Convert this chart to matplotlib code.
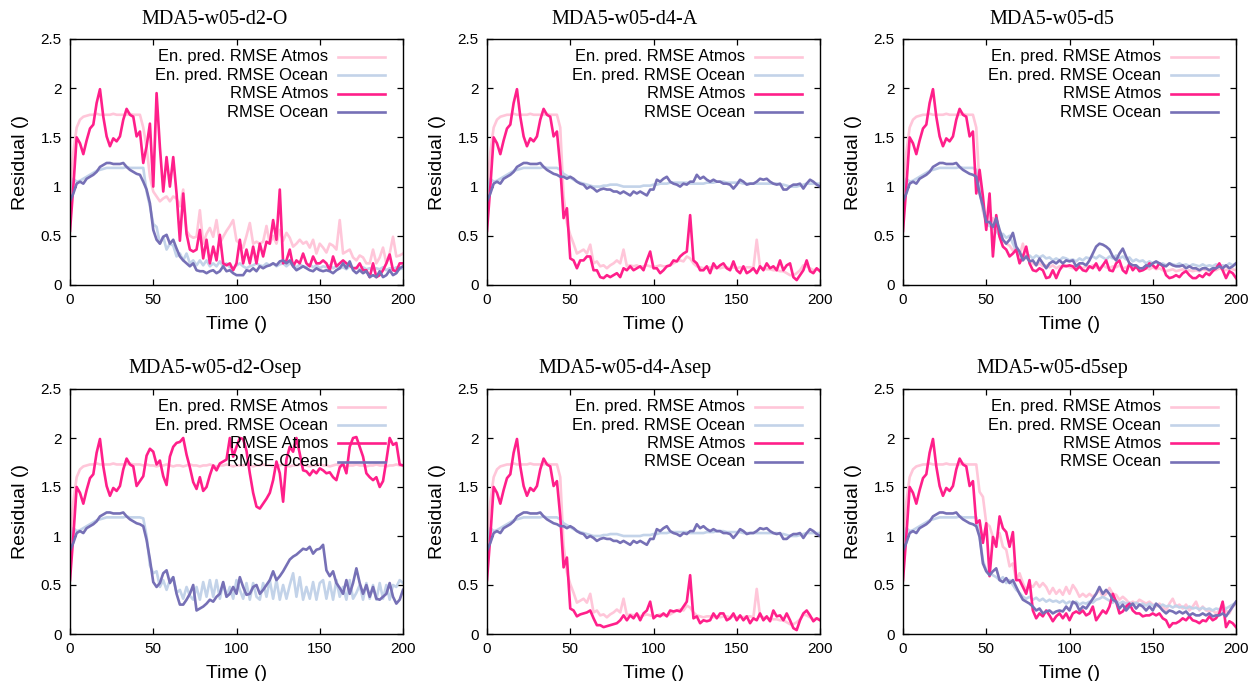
import numpy as np
import matplotlib
matplotlib.use("Agg")
import matplotlib.pyplot as plt

# shared start of every run, t = 0..42 (step 2)
head_atm = [0.55, 1.00, 1.50, 1.44, 1.33, 1.47, 1.59, 1.63, 1.85, 1.99,
            1.71, 1.51, 1.41, 1.49, 1.46, 1.51, 1.68, 1.79, 1.73, 1.71,
            1.51, 1.56]
head_ocn = [0.85, 0.93, 1.03, 1.05, 1.03, 1.08, 1.10, 1.12, 1.15, 1.20,
            1.22, 1.24, 1.24, 1.23, 1.23, 1.23, 1.24, 1.20, 1.17, 1.15,
            1.13, 1.12]
head_pred_atm = [0.95, 1.35, 1.60, 1.68, 1.71, 1.72, 1.73, 1.73, 1.74, 1.73,
                 1.73, 1.73, 1.73, 1.74, 1.73, 1.73, 1.73, 1.73, 1.74, 1.73,
                 1.73, 1.73]
head_pred_ocn = [0.95, 1.08, 1.05, 1.06, 1.08, 1.10, 1.12, 1.14, 1.16, 1.17,
                 1.18, 1.19, 1.19, 1.19, 1.19, 1.19, 1.19, 1.20, 1.19, 1.19,
                 1.19, 1.19]

# tails, t = 44..200 (step 2)
d2O_atm = [1.24, 1.41, 1.64, 1.00, 1.95, 1.40, 0.95, 1.30, 1.00, 1.30,
           0.93, 0.45, 0.93, 0.52, 0.36, 0.34, 0.36, 0.56, 0.27, 0.46,
           0.22, 0.39, 0.25, 0.51, 0.22, 0.20, 0.22, 0.15, 0.22, 0.46,
           0.22, 0.36, 0.22, 0.39, 0.22, 0.42, 0.29, 0.44, 0.42, 0.66,
           0.46, 0.97, 0.22, 0.25, 0.36, 0.19, 0.25, 0.22, 0.32, 0.22,
           0.19, 0.29, 0.22, 0.22, 0.25, 0.22, 0.15, 0.29, 0.19, 0.22,
           0.25, 0.22, 0.20, 0.17, 0.17, 0.22, 0.15, 0.15, 0.08, 0.22,
           0.08, 0.10, 0.15, 0.22, 0.31, 0.15, 0.14, 0.22, 0.22]
d2O_pred_atm = [1.60, 1.40, 1.10, 0.95, 0.90, 0.85, 0.88, 0.90, 0.85, 0.90,
                0.88, 0.80, 0.97, 0.55, 0.50, 0.48, 0.49, 0.76, 0.42, 0.52,
                0.58, 0.49, 0.66, 0.42, 0.49, 0.55, 0.60, 0.66, 0.45, 0.42,
                0.38, 0.50, 0.63, 0.42, 0.44, 0.42, 0.44, 0.60, 0.42, 0.50,
                0.42, 0.56, 0.45, 0.53, 0.48, 0.39, 0.42, 0.46, 0.42, 0.44,
                0.38, 0.46, 0.32, 0.42, 0.38, 0.33, 0.42, 0.40, 0.36, 0.66,
                0.32, 0.34, 0.36, 0.28, 0.25, 0.30, 0.28, 0.22, 0.22, 0.36,
                0.22, 0.28, 0.38, 0.22, 0.32, 0.49, 0.29, 0.30, 0.32]
d2O_ocn = [1.05, 0.97, 0.83, 0.56, 0.46, 0.42, 0.49, 0.51, 0.42, 0.46,
           0.37, 0.29, 0.25, 0.22, 0.19, 0.22, 0.15, 0.14, 0.14, 0.12,
           0.14, 0.15, 0.12, 0.14, 0.19, 0.14, 0.15, 0.12, 0.10, 0.10,
           0.10, 0.15, 0.14, 0.17, 0.14, 0.19, 0.17, 0.19, 0.20, 0.22,
           0.20, 0.24, 0.25, 0.22, 0.25, 0.19, 0.15, 0.17, 0.19, 0.17,
           0.15, 0.14, 0.17, 0.15, 0.14, 0.15, 0.14, 0.12, 0.15, 0.17,
           0.22, 0.17, 0.24, 0.15, 0.12, 0.15, 0.12, 0.14, 0.08, 0.10,
           0.08, 0.14, 0.08, 0.10, 0.15, 0.10, 0.12, 0.17, 0.19]
d2O_pred_ocn = [1.19, 0.95, 0.80, 0.62, 0.59, 0.42, 0.49, 0.36, 0.42, 0.40,
                0.29, 0.32, 0.25, 0.32, 0.22, 0.25, 0.20, 0.25, 0.20, 0.25,
                0.19, 0.22, 0.19, 0.24, 0.19, 0.22, 0.18, 0.17, 0.20, 0.22,
                0.19, 0.17, 0.19, 0.20, 0.22, 0.20, 0.19, 0.22, 0.20, 0.22,
                0.19, 0.21, 0.22, 0.19, 0.22, 0.20, 0.18, 0.21, 0.19, 0.18,
                0.21, 0.18, 0.20, 0.17, 0.19, 0.18, 0.20, 0.17, 0.19, 0.17,
                0.18, 0.16, 0.19, 0.17, 0.18, 0.16, 0.18, 0.16, 0.17, 0.15,
                0.17, 0.16, 0.18, 0.15, 0.17, 0.16, 0.18, 0.16, 0.17]

d4A_atm = [1.20, 0.68, 0.78, 0.27, 0.25, 0.17, 0.25, 0.25, 0.29, 0.29,
           0.15, 0.15, 0.08, 0.07, 0.10, 0.08, 0.10, 0.12, 0.08, 0.17,
           0.15, 0.19, 0.15, 0.17, 0.19, 0.15, 0.25, 0.34, 0.17, 0.17,
           0.12, 0.15, 0.19, 0.20, 0.25, 0.24, 0.29, 0.32, 0.34, 0.71,
           0.25, 0.22, 0.15, 0.15, 0.19, 0.12, 0.22, 0.17, 0.20, 0.22,
           0.17, 0.15, 0.24, 0.15, 0.12, 0.19, 0.12, 0.14, 0.17, 0.12,
           0.19, 0.15, 0.22, 0.17, 0.19, 0.15, 0.25, 0.15, 0.20, 0.22,
           0.08, 0.05, 0.10, 0.15, 0.25, 0.14, 0.12, 0.17, 0.14]
d4A_pred_atm = [1.60, 0.90, 0.63, 0.51, 0.42, 0.32, 0.34, 0.36, 0.32, 0.41,
                0.22, 0.24, 0.19, 0.20, 0.17, 0.20, 0.22, 0.25, 0.22, 0.36,
                0.19, 0.20, 0.19, 0.20, 0.18, 0.19, 0.20, 0.19, 0.18, 0.19,
                0.20, 0.19, 0.19, 0.20, 0.22, 0.24, 0.25, 0.24, 0.29, 0.27,
                0.22, 0.19, 0.18, 0.17, 0.18, 0.18, 0.17, 0.18, 0.17, 0.18,
                0.18, 0.17, 0.18, 0.17, 0.18, 0.17, 0.18, 0.18, 0.17, 0.46,
                0.18, 0.17, 0.16, 0.16, 0.15, 0.15, 0.14, 0.14, 0.12, 0.10,
                0.10, 0.12, 0.15, 0.20, 0.19, 0.17, 0.15, 0.16, 0.15]
d4A_ocn = [1.10, 1.10, 1.08, 1.10, 1.08, 1.05, 1.03, 1.02, 0.98, 1.00,
           0.98, 0.95, 0.97, 0.98, 0.97, 0.97, 0.95, 0.95, 0.93, 0.95,
           0.93, 0.91, 0.95, 0.93, 0.95, 0.93, 0.91, 0.97, 0.97, 1.07,
           1.05, 1.08, 1.10, 1.05, 1.03, 1.02, 1.00, 1.03, 1.02, 1.05,
           1.05, 1.12, 1.08, 1.10, 1.07, 1.05, 1.07, 1.05, 1.05, 1.03,
           1.03, 1.02, 0.98, 1.02, 1.07, 1.05, 1.02, 1.03, 1.03, 1.05,
           1.08, 1.07, 1.08, 1.05, 1.03, 1.02, 1.03, 0.97, 0.97, 1.00,
           1.02, 1.02, 1.03, 0.98, 1.03, 1.07, 1.05, 1.02, 1.00]
d4A_pred_ocn = [1.17, 1.13, 1.11, 1.09, 1.07, 1.05, 1.04, 1.03, 1.02, 1.01,
                1.00, 1.00, 1.00, 1.01, 1.01, 1.02, 1.02, 1.02, 1.01, 1.00,
                1.00, 1.00, 1.00, 1.00, 1.00, 1.01, 1.01, 1.01, 1.02, 1.02,
                1.03, 1.03, 1.03, 1.04, 1.04, 1.04, 1.04, 1.04, 1.04, 1.03,
                1.03, 1.03, 1.03, 1.03, 1.04, 1.04, 1.04, 1.05, 1.05, 1.05,
                1.04, 1.04, 1.04, 1.04, 1.04, 1.03, 1.03, 1.03, 1.03, 1.03,
                1.03, 1.03, 1.03, 1.03, 1.03, 1.03, 1.02, 1.02, 1.01, 1.00,
                1.00, 1.00, 1.01, 1.02, 1.03, 1.03, 1.03, 1.03, 1.03]

d5_atm = [0.93, 1.17, 0.90, 0.56, 0.93, 0.29, 0.71, 0.49, 0.39, 0.36,
          0.29, 0.32, 0.36, 0.22, 0.29, 0.39, 0.22, 0.15, 0.14, 0.17,
          0.15, 0.07, 0.08, 0.15, 0.07, 0.15, 0.20, 0.19, 0.20, 0.19,
          0.15, 0.19, 0.15, 0.14, 0.19, 0.17, 0.22, 0.15, 0.20, 0.25,
          0.15, 0.14, 0.22, 0.25, 0.15, 0.12, 0.22, 0.15, 0.19, 0.14,
          0.15, 0.17, 0.22, 0.20, 0.17, 0.22, 0.19, 0.10, 0.07, 0.08,
          0.10, 0.08, 0.12, 0.14, 0.10, 0.07, 0.07, 0.10, 0.08, 0.12,
          0.10, 0.14, 0.17, 0.22, 0.15, 0.07, 0.14, 0.12, 0.07]
d5_pred_atm = [1.60, 1.00, 0.75, 0.65, 0.62, 0.68, 0.60, 0.50, 0.45, 0.42,
               0.40, 0.35, 0.38, 0.30, 0.42, 0.28, 0.25, 0.22, 0.20, 0.22,
               0.19, 0.20, 0.18, 0.20, 0.17, 0.19, 0.18, 0.20, 0.18, 0.17,
               0.19, 0.18, 0.17, 0.19, 0.18, 0.20, 0.18, 0.17, 0.20, 0.18,
               0.17, 0.19, 0.18, 0.20, 0.17, 0.18, 0.20, 0.17, 0.18, 0.16,
               0.17, 0.18, 0.16, 0.18, 0.16, 0.17, 0.15, 0.14, 0.15, 0.16,
               0.14, 0.15, 0.16, 0.14, 0.15, 0.14, 0.15, 0.14, 0.16, 0.15,
               0.14, 0.16, 0.15, 0.17, 0.16, 0.15, 0.17, 0.16, 0.15]
d5_ocn = [1.10, 0.93, 0.80, 0.64, 0.64, 0.59, 0.68, 0.56, 0.46, 0.42,
          0.46, 0.53, 0.39, 0.34, 0.25, 0.29, 0.24, 0.25, 0.20, 0.27,
          0.22, 0.17, 0.22, 0.24, 0.22, 0.25, 0.22, 0.25, 0.24, 0.25,
          0.19, 0.22, 0.22, 0.20, 0.25, 0.32, 0.39, 0.42, 0.41, 0.39,
          0.36, 0.29, 0.25, 0.32, 0.37, 0.29, 0.22, 0.20, 0.20, 0.17,
          0.17, 0.20, 0.19, 0.22, 0.24, 0.22, 0.20, 0.19, 0.22, 0.20,
          0.19, 0.19, 0.20, 0.17, 0.19, 0.17, 0.17, 0.15, 0.17, 0.17,
          0.15, 0.17, 0.17, 0.19, 0.17, 0.20, 0.17, 0.19, 0.22]
d5_pred_ocn = [1.17, 0.95, 0.78, 0.62, 0.60, 0.58, 0.55, 0.50, 0.52, 0.48,
               0.50, 0.42, 0.35, 0.32, 0.30, 0.28, 0.30, 0.27, 0.30, 0.28,
               0.30, 0.27, 0.28, 0.25, 0.27, 0.25, 0.28, 0.27, 0.25, 0.26,
               0.24, 0.27, 0.25, 0.28, 0.27, 0.29, 0.27, 0.30, 0.28, 0.26,
               0.29, 0.27, 0.30, 0.27, 0.29, 0.26, 0.28, 0.24, 0.26, 0.24,
               0.25, 0.22, 0.24, 0.22, 0.23, 0.21, 0.22, 0.20, 0.22, 0.21,
               0.20, 0.22, 0.20, 0.21, 0.19, 0.21, 0.20, 0.19, 0.21, 0.19,
               0.20, 0.19, 0.21, 0.19, 0.20, 0.19, 0.22, 0.20, 0.22]

d2Osep_atm = [1.61, 1.82, 1.89, 1.86, 1.73, 1.77, 1.61, 1.52, 1.81, 1.91,
              1.95, 1.96, 2.00, 1.83, 1.70, 1.55, 1.48, 1.60, 1.46, 1.50,
              1.62, 1.72, 1.67, 1.74, 1.76, 1.78, 2.00, 1.81, 1.91, 2.00,
              1.99, 1.87, 1.64, 1.44, 1.30, 1.28, 1.33, 1.38, 1.44, 1.57,
              1.76, 1.64, 1.35, 1.78, 1.91, 1.86, 2.00, 1.84, 1.67, 1.66,
              1.62, 1.67, 1.64, 1.69, 1.67, 1.64, 1.65, 1.60, 1.57, 1.70,
              1.74, 1.64, 1.91, 2.00, 2.01, 1.91, 1.81, 1.64, 1.60, 1.57,
              1.60, 1.50, 1.56, 1.77, 2.00, 1.93, 1.95, 1.73, 1.72]
d2Osep_pred_atm = [1.72, 1.73, 1.72, 1.72, 1.71, 1.72, 1.72, 1.73, 1.72, 1.71,
                   1.72, 1.72, 1.71, 1.72, 1.73, 1.72, 1.72, 1.71, 1.72, 1.72,
                   1.73, 1.72, 1.71, 1.72, 1.72, 1.73, 1.72, 1.71, 1.72, 1.72,
                   1.72, 1.73, 1.72, 1.71, 1.72, 1.72, 1.73, 1.72, 1.72, 1.71,
                   1.72, 1.72, 1.73, 1.72, 1.71, 1.72, 1.72, 1.73, 1.72, 1.72,
                   1.71, 1.72, 1.72, 1.73, 1.72, 1.72, 1.71, 1.72, 1.73, 1.72,
                   1.72, 1.71, 1.72, 1.72, 1.73, 1.72, 1.72, 1.71, 1.72, 1.72,
                   1.73, 1.72, 1.72, 1.71, 1.72, 1.72, 1.73, 1.72, 1.72]
d2Osep_ocn = [1.10, 0.96, 0.76, 0.53, 0.48, 0.52, 0.62, 0.65, 0.52, 0.58,
              0.41, 0.30, 0.30, 0.35, 0.41, 0.50, 0.24, 0.26, 0.28, 0.31,
              0.35, 0.33, 0.38, 0.41, 0.53, 0.38, 0.41, 0.48, 0.41, 0.58,
              0.48, 0.40, 0.41, 0.48, 0.50, 0.41, 0.45, 0.50, 0.55, 0.64,
              0.55, 0.59, 0.64, 0.70, 0.76, 0.79, 0.81, 0.84, 0.87, 0.86,
              0.89, 0.82, 0.86, 0.87, 0.91, 0.65, 0.59, 0.64, 0.52, 0.47,
              0.41, 0.55, 0.41, 0.52, 0.67, 0.52, 0.41, 0.50, 0.38, 0.48,
              0.36, 0.35, 0.38, 0.41, 0.52, 0.38, 0.31, 0.35, 0.45]
d2Osep_pred_ocn = [1.18, 1.00, 0.70, 0.62, 0.64, 0.48, 0.55, 0.45, 0.55, 0.58,
                   0.42, 0.45, 0.36, 0.48, 0.39, 0.35, 0.48, 0.35, 0.53, 0.38,
                   0.55, 0.38, 0.55, 0.36, 0.52, 0.38, 0.48, 0.36, 0.55, 0.45,
                   0.36, 0.52, 0.35, 0.52, 0.38, 0.35, 0.52, 0.38, 0.55, 0.36,
                   0.55, 0.35, 0.50, 0.36, 0.50, 0.62, 0.38, 0.58, 0.35, 0.48,
                   0.36, 0.53, 0.35, 0.52, 0.55, 0.36, 0.53, 0.35, 0.55, 0.38,
                   0.48, 0.35, 0.55, 0.36, 0.42, 0.50, 0.35, 0.52, 0.36, 0.50,
                   0.35, 0.52, 0.36, 0.50, 0.35, 0.50, 0.48, 0.55, 0.52]

d4Asep_atm = [1.20, 0.68, 0.78, 0.26, 0.24, 0.18, 0.20, 0.21, 0.22, 0.24,
              0.16, 0.09, 0.09, 0.07, 0.08, 0.09, 0.10, 0.11, 0.14, 0.19,
              0.14, 0.19, 0.16, 0.21, 0.14, 0.21, 0.24, 0.33, 0.16, 0.19,
              0.18, 0.21, 0.18, 0.24, 0.23, 0.24, 0.23, 0.28, 0.33, 0.60,
              0.16, 0.18, 0.11, 0.14, 0.13, 0.14, 0.21, 0.16, 0.21, 0.21,
              0.14, 0.16, 0.21, 0.14, 0.19, 0.14, 0.18, 0.11, 0.16, 0.14,
              0.21, 0.14, 0.18, 0.13, 0.24, 0.18, 0.19, 0.14, 0.21, 0.14,
              0.06, 0.04, 0.14, 0.21, 0.24, 0.19, 0.13, 0.16, 0.14]

d5sep_atm = [1.13, 1.16, 0.93, 1.13, 0.59, 0.99, 0.89, 1.20, 1.08, 1.04,
             0.89, 1.04, 0.55, 0.55, 0.48, 0.41, 0.55, 0.24, 0.16, 0.21,
             0.18, 0.24, 0.19, 0.13, 0.18, 0.21, 0.16, 0.21, 0.14, 0.21,
             0.23, 0.21, 0.24, 0.19, 0.21, 0.28, 0.14, 0.19, 0.24, 0.21,
             0.28, 0.41, 0.33, 0.21, 0.23, 0.28, 0.31, 0.24, 0.21, 0.21,
             0.18, 0.19, 0.19, 0.21, 0.19, 0.21, 0.16, 0.14, 0.07, 0.11,
             0.11, 0.13, 0.16, 0.14, 0.18, 0.14, 0.13, 0.11, 0.14, 0.13,
             0.18, 0.14, 0.16, 0.21, 0.33, 0.07, 0.13, 0.11, 0.07]
d5sep_pred_atm = [1.73, 1.45, 1.40, 1.13, 1.10, 0.99, 0.96, 1.03, 0.89, 0.86,
                  0.69, 0.72, 0.55, 0.62, 0.52, 0.45, 0.50, 0.48, 0.53, 0.48,
                  0.52, 0.48, 0.41, 0.47, 0.41, 0.45, 0.40, 0.48, 0.41, 0.50,
                  0.45, 0.38, 0.41, 0.38, 0.41, 0.38, 0.41, 0.45, 0.38, 0.41,
                  0.47, 0.41, 0.40, 0.35, 0.38, 0.35, 0.31, 0.33, 0.31, 0.35,
                  0.33, 0.31, 0.33, 0.30, 0.28, 0.31, 0.28, 0.24, 0.31, 0.36,
                  0.28, 0.30, 0.26, 0.30, 0.24, 0.28, 0.33, 0.24, 0.28, 0.24,
                  0.23, 0.24, 0.21, 0.24, 0.31, 0.24, 0.21, 0.28, 0.31]
d5sep_ocn = [1.10, 0.99, 0.72, 0.64, 0.60, 0.64, 0.67, 0.55, 0.53, 0.57,
             0.52, 0.55, 0.48, 0.41, 0.35, 0.33, 0.31, 0.28, 0.24, 0.26,
             0.21, 0.23, 0.24, 0.21, 0.23, 0.24, 0.23, 0.28, 0.24, 0.33,
             0.31, 0.24, 0.28, 0.26, 0.31, 0.36, 0.41, 0.48, 0.41, 0.45,
             0.41, 0.35, 0.33, 0.26, 0.30, 0.24, 0.28, 0.31, 0.26, 0.30,
             0.28, 0.24, 0.28, 0.24, 0.31, 0.28, 0.24, 0.21, 0.24, 0.23,
             0.21, 0.23, 0.21, 0.23, 0.19, 0.21, 0.19, 0.19, 0.21, 0.19,
             0.21, 0.18, 0.19, 0.19, 0.21, 0.18, 0.23, 0.28, 0.33]
d5sep_pred_ocn = [1.19, 1.00, 0.75, 0.65, 0.62, 0.60, 0.58, 0.55, 0.58, 0.52,
                  0.55, 0.50, 0.45, 0.42, 0.38, 0.36, 0.38, 0.35, 0.37, 0.34,
                  0.36, 0.33, 0.35, 0.33, 0.34, 0.32, 0.34, 0.31, 0.33, 0.31,
                  0.33, 0.30, 0.32, 0.31, 0.33, 0.32, 0.35, 0.36, 0.38, 0.36,
                  0.34, 0.32, 0.34, 0.31, 0.33, 0.31, 0.32, 0.30, 0.32, 0.30,
                  0.31, 0.29, 0.31, 0.29, 0.30, 0.28, 0.30, 0.28, 0.29, 0.27,
                  0.29, 0.27, 0.28, 0.26, 0.28, 0.26, 0.27, 0.25, 0.27, 0.25,
                  0.26, 0.24, 0.26, 0.25, 0.24, 0.26, 0.28, 0.30, 0.32]

titles = ["MDA5-w05-d2-O", "MDA5-w05-d4-A", "MDA5-w05-d5",
          "MDA5-w05-d2-Osep", "MDA5-w05-d4-Asep", "MDA5-w05-d5sep"]
# (pred atmos, pred ocean, rmse atmos, rmse ocean) tails per panel
tails = [
    (d2O_pred_atm, d2O_pred_ocn, d2O_atm, d2O_ocn),
    (d4A_pred_atm, d4A_pred_ocn, d4A_atm, d4A_ocn),
    (d5_pred_atm, d5_pred_ocn, d5_atm, d5_ocn),
    (d2Osep_pred_atm, d2Osep_pred_ocn, d2Osep_atm, d2Osep_ocn),
    (d4A_pred_atm, d4A_pred_ocn, d4Asep_atm, d4A_ocn),
    (d5sep_pred_atm, d5sep_pred_ocn, d5sep_atm, d5sep_ocn),
]
heads = (head_pred_atm, head_pred_ocn, head_atm, head_ocn)
labels = ["En. pred. RMSE Atmos", "En. pred. RMSE Ocean", "RMSE Atmos", "RMSE Ocean"]
colors = ["#ffc6d9", "#c3d3e9", "#ff1f8a", "#7670b6"]

W, H = 1251, 681
fig = plt.figure(figsize=(W / 100, H / 100), dpi=100)
lefts = [70, 487, 903]
rows = [(39, 285), (389, 634)]
title_x = [215, 625, 1052]
title_y = [19, 369]
sans = "Liberation Sans"

for i, name in enumerate(titles):
    r, c = divmod(i, 3)
    top, bot = rows[r]
    ax = fig.add_axes([lefts[c] / W, 1 - bot / H, 333 / W, (bot - top) / H])
    for k in range(4):
        y = np.array(heads[k] + tails[i][k])
        t = np.arange(len(y)) * 2
        ax.plot(t, y, color=colors[k], lw=1.9, solid_joinstyle="round")
    ax.set_xlim(0, 200)
    ax.set_ylim(0, 2.5)
    ax.set_xticks([0, 50, 100, 150, 200])
    ax.set_yticks([0, 0.5, 1, 1.5, 2, 2.5])
    ax.set_yticklabels(["0", "0.5", "1", "1.5", "2", "2.5"])
    ax.tick_params(direction="in", top=True, right=True, length=4.5, width=0.9,
                   labelsize=11, pad=6)
    for lab in ax.get_xticklabels() + ax.get_yticklabels():
        lab.set_family(sans)
    for s in ax.spines.values():
        s.set_linewidth(1.0)
    ax.set_xlabel("Time ()", family=sans, fontsize=14)
    ax.xaxis.set_label_coords(0.5, -0.125)
    ax.set_ylabel("Residual ()", family=sans, fontsize=14)
    ax.yaxis.label.set_va("center")
    ax.yaxis.set_label_coords(-0.148, 0.5)

    # gnuplot style key: right-aligned text, sample line to the right
    for k in range(4):
        yk = 0.928 - 0.075 * k
        ax.text(0.775, yk, labels[k], transform=ax.transAxes, ha="right",
                va="center", family=sans, fontsize=11.9)
        ax.plot([0.805, 0.946], [yk, yk], transform=ax.transAxes,
                color=colors[k], lw=1.9)

    fig.text(title_x[c] / W, 1 - title_y[r] / H, name, ha="center", va="center",
             family="Liberation Serif", fontsize=14.5)

fig.savefig("out.png", dpi=100)
